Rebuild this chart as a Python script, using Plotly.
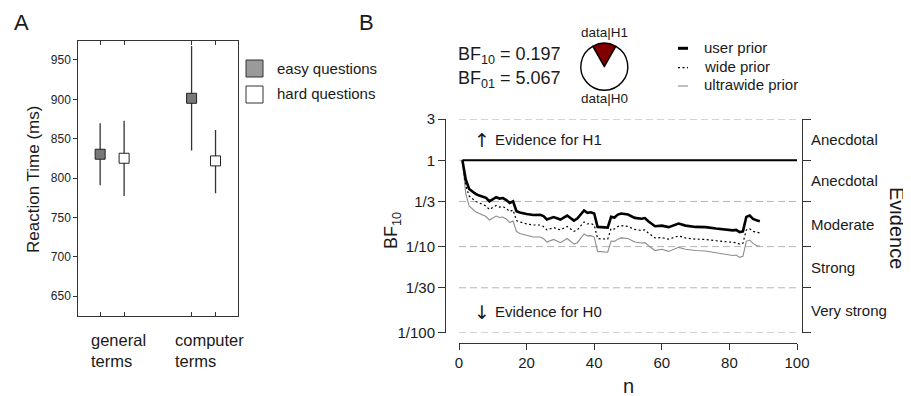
import math
import plotly.graph_objects as go

W, H = 911, 396
OFF = 8  # the page body adds an 8px margin around the figure
def px(x):
    return (x - OFF) / W
def py(y):
    return 1 - (y - OFF) / H

FONT = "Liberation Sans, Arial, sans-serif"
TXT = "#1a1a1a"
AX = "#333333"

# ---------------- Panel A data ----------------
categories = ["general<br>terms", "computer<br>terms"]
easy_rt = [830.2, 901.3]
easy_err_plus = [39.4, 66.5]
easy_err_minus = [39.4, 66.5]
hard_rt = [825.1, 821.7]
hard_err_plus = [47.8, 39.4]
hard_err_minus = [47.9, 41.1]
rt_ticks = [650, 700, 750, 800, 850, 900, 950]
legend_a = ["easy questions", "hard questions"]

# ---------------- Panel B data ----------------
bf_ticks = [3, 1, 1/3, 1/10, 1/30, 1/100]
bf_tick_text = ["3", "1", "1/3", "1/10", "1/30", "1/100"]
evidence_labels = ["Anecdotal", "Anecdotal", "Moderate", "Strong", "Very strong"]
n_ticks = [0, 20, 40, 60, 80, 100]
prior_names = ["user prior", "wide prior", "ultrawide prior"]

n_values = [1, 2, 3, 4, 5, 6, 7, 8, 9, 10, 11, 12, 13, 14, 15, 16, 17, 18, 19, 20,
            22, 24, 25, 26, 28, 30, 32, 34, 35, 37, 38, 39, 40, 41, 42, 43, 44, 45,
            46, 47, 48, 50, 52, 54, 55, 56, 58, 60, 62, 65, 67, 70, 73, 76, 79, 81,
            82, 83, 84, 85, 86, 87, 88, 89]
bf_user = [1.0, 0.598, 0.464, 0.431, 0.406, 0.390, 0.380, 0.367, 0.335, 0.356,
           0.373, 0.360, 0.365, 0.346, 0.321, 0.335, 0.257, 0.248, 0.242, 0.238,
           0.232, 0.233, 0.226, 0.206, 0.220, 0.206, 0.229, 0.200, 0.211, 0.262,
           0.246, 0.250, 0.242, 0.169, 0.168, 0.167, 0.166, 0.221, 0.217, 0.235,
           0.242, 0.235, 0.215, 0.210, 0.214, 0.197, 0.172, 0.175, 0.168, 0.185,
           0.175, 0.169, 0.168, 0.162, 0.158, 0.154, 0.156, 0.147, 0.150, 0.221,
           0.229, 0.209, 0.202, 0.197]
bf_wide = [1.0, 0.509, 0.385, 0.356, 0.333, 0.320, 0.307, 0.295, 0.269, 0.284,
           0.299, 0.287, 0.291, 0.276, 0.255, 0.265, 0.200, 0.193, 0.188, 0.183,
           0.178, 0.178, 0.171, 0.156, 0.166, 0.156, 0.171, 0.150, 0.156, 0.193,
           0.183, 0.185, 0.178, 0.124, 0.123, 0.122, 0.122, 0.162, 0.160, 0.171,
           0.175, 0.171, 0.158, 0.154, 0.156, 0.144, 0.126, 0.127, 0.122, 0.133,
           0.126, 0.122, 0.121, 0.117, 0.114, 0.110, 0.111, 0.107, 0.109, 0.156,
           0.161, 0.150, 0.146, 0.144]
bf_ultrawide = [1.0, 0.411, 0.295, 0.269, 0.251, 0.242, 0.232, 0.223, 0.203, 0.214,
                0.226, 0.217, 0.220, 0.209, 0.190, 0.198, 0.150, 0.142, 0.138, 0.134,
                0.129, 0.129, 0.124, 0.113, 0.121, 0.111, 0.124, 0.107, 0.111, 0.140,
                0.133, 0.134, 0.129, 0.088, 0.087, 0.086, 0.086, 0.116, 0.115, 0.122,
                0.126, 0.124, 0.113, 0.110, 0.111, 0.103, 0.090, 0.093, 0.088, 0.098,
                0.093, 0.090, 0.089, 0.085, 0.082, 0.079, 0.080, 0.075, 0.077, 0.115,
                0.119, 0.109, 0.103, 0.101]
reference_n = [1, 100]
reference_bf = [1, 1]
bf10_final = 0.197
bf01_final = 5.067

fig = go.Figure()

# ---------------- Panel A ----------------
dodge = 0.131
centers = [i + 1 for i in range(len(categories))]
x_easy = [c - dodge for c in centers]
x_hard = [c + dodge for c in centers]
EASY_FILL = "#787878"

fig.add_trace(go.Scatter(
    x=x_easy, y=easy_rt, mode="markers", name=legend_a[0], xaxis="x", yaxis="y",
    marker=dict(symbol="square", size=10, color=EASY_FILL, line=dict(color="#222", width=1)),
    error_y=dict(type="data", symmetric=False, array=easy_err_plus, arrayminus=easy_err_minus,
                 color="#333", thickness=1.3, width=0),
    showlegend=False, hoverinfo="skip"))
fig.add_trace(go.Scatter(
    x=x_hard, y=hard_rt, mode="markers", name=legend_a[1], xaxis="x", yaxis="y",
    marker=dict(symbol="square", size=10, color="white", line=dict(color="#222", width=1)),
    error_y=dict(type="data", symmetric=False, array=hard_err_plus, arrayminus=hard_err_minus,
                 color="#333", thickness=1.3, width=0),
    showlegend=False, hoverinfo="skip"))

# ---------------- Panel B ----------------
fig.add_trace(go.Scatter(x=reference_n, y=reference_bf, mode="lines", xaxis="x2", yaxis="y2",
                         line=dict(color="black", width=1.8), showlegend=False, hoverinfo="skip"))
fig.add_trace(go.Scatter(x=n_values, y=bf_ultrawide, mode="lines", name=prior_names[2],
                         xaxis="x2", yaxis="y2", line=dict(color="#8c8c8c", width=1.1),
                         showlegend=False))
fig.add_trace(go.Scatter(x=n_values, y=bf_wide, mode="lines", name=prior_names[1],
                         xaxis="x2", yaxis="y2", line=dict(color="black", width=1.2, dash="2px,2.5px"),
                         showlegend=False))
fig.add_trace(go.Scatter(x=n_values, y=bf_user, mode="lines", name=prior_names[0],
                         xaxis="x2", yaxis="y2", line=dict(color="black", width=2.6),
                         showlegend=False))
# invisible trace to activate right-hand evidence axis
fig.add_trace(go.Scatter(x=[50], y=[1], mode="markers", xaxis="x2", yaxis="y3",
                         marker=dict(opacity=0), showlegend=False, hoverinfo="skip"))

# pie
frac_h1 = bf10_final / (1 + bf10_final)
fig.add_trace(go.Pie(
    values=[bf10_final, 1], labels=["data|H1", "data|H0"], sort=False,
    direction="clockwise", rotation=-180 * frac_h1,
    marker=dict(colors=["#800000", "white"], line=dict(color="black", width=1.4)),
    textinfo="none", hoverinfo="skip", showlegend=False,
    domain=dict(x=[px(604.3 - 23.5), px(604.3 + 23.5)], y=[py(66.7 + 23.5), py(66.7 - 23.5)])))

ylog_lo, ylog_hi = math.log10(min(bf_ticks)), math.log10(max(bf_ticks))
pad = 0.0008

fig.update_layout(
    template="none",
    width=W, height=H, margin=dict(l=0, r=0, t=0, b=0, autoexpand=False),
    paper_bgcolor="white", plot_bgcolor="white",
    font=dict(family=FONT, color=TXT, size=15),
    xaxis=dict(domain=[px(78.3), px(238.3)], range=[0.63, 2.38], anchor="y", automargin=False,
               tickvals=x_easy + x_hard, showticklabels=False, ticks="inside", ticklen=4,
               tickcolor=AX, showline=True, linecolor=AX, linewidth=1, mirror="ticks",
               showgrid=False, zeroline=False),
    yaxis=dict(domain=[py(316), py(40.7)], range=[624.6, 974.5], anchor="x", automargin=False,
               tickvals=rt_ticks, ticks="outside", ticklen=4, tickcolor=AX,
               tickfont=dict(size=12, color="#222"),
               showline=True, linecolor=AX, linewidth=1, mirror=True,
               showgrid=False, zeroline=False),
    xaxis2=dict(domain=[px(459), px(797)], range=[0, 100], anchor="free", position=py(343.3),
                automargin=False,
                tickvals=n_ticks, ticks="outside", ticklen=6, tickcolor=AX,
                tickfont=dict(size=15), showline=True, linecolor=AX, linewidth=1,
                showgrid=False, zeroline=False),
    yaxis2=dict(domain=[py(333), py(119)], type="log", range=[ylog_lo - pad, ylog_hi + pad],
                anchor="free", position=px(445), automargin=False,
                tickvals=bf_ticks, ticktext=bf_tick_text,
                ticks="outside", ticklen=7, tickcolor=AX, tickfont=dict(size=15),
                showline=True, linecolor=AX, linewidth=1, showgrid=False, zeroline=False),
    yaxis3=dict(domain=[py(333), py(119)], type="log", range=[ylog_lo - pad, ylog_hi + pad],
                overlaying="y2", side="right", anchor="free", position=px(801.7), automargin=False,
                tickvals=bf_ticks, showticklabels=False, ticks="outside", ticklen=8,
                tickcolor=AX, showline=True, linecolor=AX, linewidth=1,
                showgrid=False, zeroline=False),
)

# dashed reference lines at the evidence thresholds
for t in bf_ticks:
    fig.add_shape(type="line", xref="x2 domain", yref="y2", x0=0, x1=1, y0=t, y1=t,
                  layer="below", line=dict(color="#b4b4b4", width=1, dash="7px,4px"))

ann = []
def add_text(text, x, y, size=15, xanchor="center", yanchor="middle", angle=0, align="center", **kw):
    d = dict(text=text, x=x, y=y, xref=kw.get("xref", "paper"), yref=kw.get("yref", "paper"),
             showarrow=False, xanchor=xanchor, yanchor=yanchor, textangle=angle,
             align=align, font=dict(size=size, family=kw.get("family", FONT), color=TXT))
    ann.append(d)

# panel letters
add_text("A", px(12), py(23), size=22, xanchor="left")
add_text("B", px(357), py(23), size=22, xanchor="left")
# panel A labels
add_text("Reaction Time (ms)", px(33), py(180), size=17, angle=-90)
for cat, cx in zip(categories, [89, 173.3]):
    add_text(cat, px(cx), py(350), size=16.5, xanchor="left", align="left")
# panel A legend
fig.add_shape(type="rect", xref="paper", yref="paper", x0=px(246), x1=px(263), y0=py(77), y1=py(60),
              fillcolor="#9a9a9a", line=dict(color="#333", width=1))
fig.add_shape(type="rect", xref="paper", yref="paper", x0=px(246), x1=px(263), y0=py(103), y1=py(86),
              fillcolor="white", line=dict(color="#333", width=1))
add_text(legend_a[0], px(275), py(69), xanchor="left")
add_text(legend_a[1], px(275), py(94), xanchor="left")

# panel B header texts
add_text(f"BF<sub>10</sub> = {bf10_final:.3f}", px(456), py(55), size=18, xanchor="left")
add_text(f"BF<sub>01</sub> = {bf01_final:.3f}", px(456), py(79), size=18, xanchor="left")
add_text("data|H1", px(604.3), py(32.5), size=13.5)
add_text("data|H0", px(604.3), py(99), size=13.5)

# panel B legend
leg_y = [48.3, 67.7, 86]
styles = [dict(color="black", width=3), dict(color="black", width=1.2, dash="2px,2.5px"),
          dict(color="#8c8c8c", width=1.1)]
for name, yy, st in zip(prior_names, leg_y, styles):
    fig.add_shape(type="line", xref="paper", yref="paper", x0=px(678), x1=px(688), y0=py(yy), y1=py(yy),
                  line=st)
    add_text(name, px(702), py(yy - 1), xanchor="left")

# evidence direction hints
add_text("↑", px(481.5), py(140), size=19, family="DejaVu Sans")
add_text("Evidence for H1", px(493), py(140), xanchor="left")
add_text("↓", px(481.5), py(312), size=19, family="DejaVu Sans")
add_text("Evidence for H0", px(493), py(311), xanchor="left")

# evidence category labels between tick values
for lab, a, b in zip(evidence_labels, bf_ticks[:-1], bf_ticks[1:]):
    mid = (math.log10(a) + math.log10(b)) / 2
    add_text(lab, px(809), mid, xanchor="left", yref="y2")

add_text("Evidence", px(897), py(228), size=20, angle=90)
add_text("n", px(628), py(386), size=20)
add_text("BF<sub>10</sub>", px(392), py(231), size=18, angle=-90)

fig.update_layout(annotations=ann)
fig.write_html("out.html")
